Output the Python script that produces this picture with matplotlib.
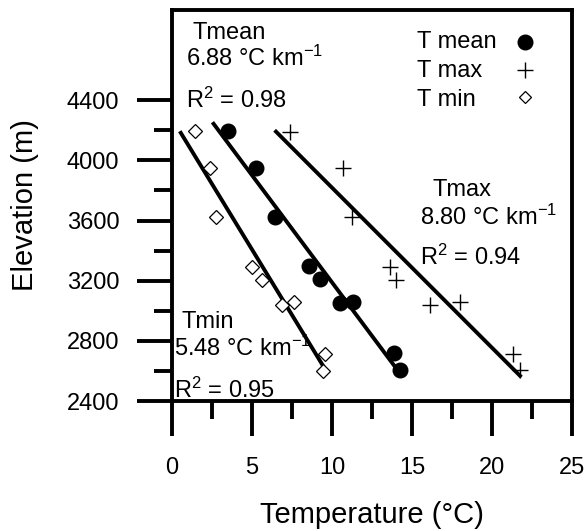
import numpy as np
import matplotlib
matplotlib.use('Agg')
import matplotlib.pyplot as plt
from matplotlib.lines import Line2D
from matplotlib.ticker import MultipleLocator, FixedLocator

plt.rcParams['font.family'] = ['Liberation Sans', 'DejaVu Sans']
plt.rcParams['mathtext.fontset'] = 'custom'
plt.rcParams['mathtext.rm'] = 'Liberation Sans'
plt.rcParams['mathtext.default'] = 'regular'

# data (temperature in C, elevation in m)
tmean_t = [3.5, 5.25, 6.45, 8.55, 9.25, 10.5, 11.3, 13.9, 14.25]
tmean_e = [4195, 3950, 3625, 3295, 3210, 3050, 3055, 2720, 2605]
tmax_t = [7.4, 10.7, 11.25, 13.6, 14.0, 16.1, 18.0, 21.3, 21.75]
tmax_e = [4190, 3950, 3625, 3290, 3205, 3040, 3055, 2712, 2606]
tmin_t = [1.45, 2.4, 2.75, 5.0, 5.6, 6.9, 7.6, 9.55, 9.45]
tmin_e = [4195, 3950, 3625, 3290, 3205, 3040, 3058, 2712, 2600]

series_names = ['T mean', 'T max', 'T min']
x_ticks = [0, 5, 10, 15, 20, 25]
y_ticks = [2400, 2800, 3200, 3600, 4000, 4400]
y_minor = [2600, 3000, 3400, 3800, 4200]

fs = 17
lw = 2.8

fig = plt.figure(figsize=(5.87, 5.31), dpi=100)
ax = fig.add_axes([172/587, 1-401/531, 400/587, 391/531])

ax.plot(tmean_t, tmean_e, 'o', color='black', markersize=10.5, zorder=3)
ax.plot(tmax_t, tmax_e, '+', color='black', markersize=11, markeredgewidth=1.0, zorder=3)
ax.plot(tmin_t, tmin_e, 'D', color='black', markerfacecolor='white', markersize=7,
        markeredgewidth=0.9, zorder=3)

# regression lines (elevation on temperature)
for t, e in [(tmean_t, tmean_e), (tmax_t, tmax_e), (tmin_t, tmin_e)]:
    b, a = np.polyfit(t, e, 1)
    xs = np.array([min(t) - 0.9, max(t)])
    ax.plot(xs, a + b*xs, color='black', linewidth=lw, zorder=2)

ax.set_xlim(0, 25)
ax.set_ylim(2400, 5000)
ax.xaxis.set_major_locator(FixedLocator(x_ticks))
ax.xaxis.set_minor_locator(MultipleLocator(2.5))
ax.yaxis.set_major_locator(FixedLocator(y_ticks))
ax.yaxis.set_minor_locator(FixedLocator(y_minor))

for s in ax.spines.values():
    s.set_linewidth(lw)
ax.tick_params(which='major', length=25, width=lw, labelsize=fs)
ax.tick_params(which='minor', length=13, width=lw)
ax.tick_params(axis='y', which='major', pad=13)
ax.tick_params(axis='x', which='major', pad=15)

ax.set_xlabel('Temperature (°C)', fontsize=21, labelpad=16)
ax.set_ylabel('Elevation (m)', fontsize=21, labelpad=20)

# annotations
ax.text(1.3, 4845, 'Tmean', fontsize=fs, va='center')
ax.text(0.9, 4679, r'6.88 °C km$^{-1}$', fontsize=fs, va='center')
ax.text(0.9, 4400, r'R$^{2}$ = 0.98', fontsize=fs, va='center')
ax.text(16.3, 3802, 'Tmax', fontsize=fs, va='center')
ax.text(15.5, 3623, r'8.80 °C km$^{-1}$', fontsize=fs, va='center')
ax.text(15.5, 3357, r'R$^{2}$ = 0.94', fontsize=fs, va='center')
ax.text(0.6, 2925, 'Tmin', fontsize=fs, va='center')
ax.text(0.1, 2752, r'5.48 °C km$^{-1}$', fontsize=fs, va='center')
ax.text(0.1, 2473, r'R$^{2}$ = 0.95', fontsize=fs, va='center')

# legend: left aligned labels, symbols in a column on the right
handles = [
    Line2D([], [], marker='o', color='black', linestyle='none', markersize=10.5),
    Line2D([], [], marker='+', color='black', linestyle='none', markersize=11, markeredgewidth=1.0),
    Line2D([], [], marker='D', color='black', markerfacecolor='white', linestyle='none',
           markersize=6, markeredgewidth=0.9),
]
ax.legend(handles, ['', '', ''], loc='center', frameon=False, fontsize=fs,
          handlelength=1.0, handletextpad=0, labelspacing=0.24, borderpad=0,
          bbox_to_anchor=(0.8825, 0.842))
for i, name in enumerate(series_names):
    ax.text(0.6125, 0.918 - i*0.074, name, transform=ax.transAxes, fontsize=fs, va='center')

fig.savefig('out.png', dpi=100)
